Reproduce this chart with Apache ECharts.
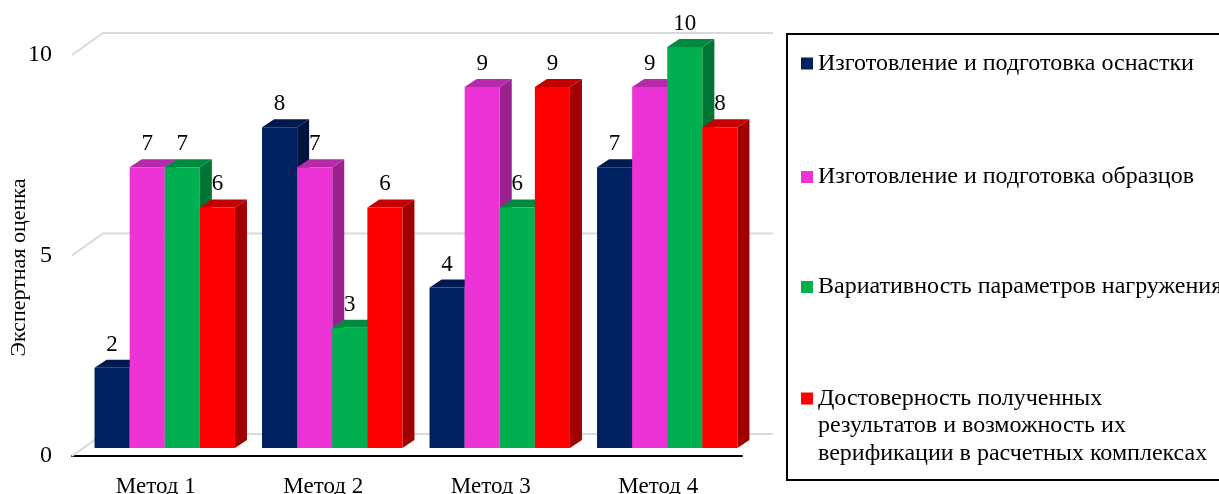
<!DOCTYPE html>
<html>
<head>
<meta charset="utf-8">
<script src="https://cdn.jsdelivr.net/npm/echarts@6/dist/echarts.min.js"></script>
<style>
  html, body { margin: 0; padding: 0; background: #ffffff; }
  #chart { width: 1219px; height: 494px; }
</style>
</head>
<body>
<div id="chart"></div>
<script>
// Categories and scores (expert rating, 0..10)
const categories = ['Метод 1', 'Метод 2', 'Метод 3', 'Метод 4'];
const seriesNames = [
  'Изготовление и подготовка оснастки',
  'Изготовление и подготовка образцов',
  'Вариативность параметров нагружения',
  'Достоверность полученных\nрезультатов и возможность их\nверификации в расчетных комплексах'
];
const toolingPrep = [2, 8, 4, 7];
const samplePrep = [7, 7, 9, 9];
const loadVariability = [7, 3, 6, 10];
const reliability = [6, 6, 9, 8];
const yTicks = [0, 5, 10];
const yAxisTitle = 'Экспертная оценка';

const seriesValues = [toolingPrep, samplePrep, loadVariability, reliability];

// Face colours of each box: front, top, side
const palette = [
  { front: '#002060', top: '#001A4F', side: '#00143D' },
  { front: '#EE33D6', top: '#B42AA8', side: '#9A2290' },
  { front: '#00B050', top: '#008A3E', side: '#007533' },
  { front: '#FF0000', top: '#C40000', side: '#A00000' }
];

const FONT = '"Liberation Serif", "Times New Roman", serif';

// Pseudo-3D geometry (pixels)
const BAR_SHIFT = [9, -8];     // bar front face relative to the front plane
const BAR_DEPTH = [12, -8];    // depth of each box
const WALL_DEPTH = [31, -22];  // depth of the back wall
const BAR_FRACTION = 0.2096;   // bar width as a share of the category band

function renderWall(params, api) {
  const cs = params.coordSys;
  const y = api.coord([0, api.value(1)])[1];
  return {
    type: 'polyline',
    shape: {
      points: [
        [cs.x, y],
        [cs.x + WALL_DEPTH[0], y + WALL_DEPTH[1]],
        [cs.x + cs.width + WALL_DEPTH[0], y + WALL_DEPTH[1]]
      ]
    },
    style: { stroke: '#D9D9D9', lineWidth: 2, fill: null },
    silent: true
  };
}

function makeBarRenderer(sIdx) {
  const c = palette[sIdx];
  return function (params, api) {
    const cat = api.value(0);
    const val = api.value(1);
    const base = api.coord([cat, 0]);
    const top = api.coord([cat, val]);
    const band = api.size([1, 0])[0];
    const bw = band * BAR_FRACTION;
    const x0 = base[0] - 2 * bw + sIdx * bw + BAR_SHIFT[0];
    const x1 = x0 + bw;
    const yb = base[1] + BAR_SHIFT[1];
    const yt = top[1] + BAR_SHIFT[1];
    const dx = BAR_DEPTH[0], dy = BAR_DEPTH[1];
    return {
      type: 'group',
      children: [
        {
          type: 'polygon',
          shape: { points: [[x1, yt], [x1 + dx, yt + dy], [x1 + dx, yb + dy], [x1, yb]] },
          style: { fill: c.side }
        },
        {
          type: 'polygon',
          shape: { points: [[x0, yt], [x1, yt], [x1 + dx, yt + dy], [x0 + dx, yt + dy]] },
          style: { fill: c.top }
        },
        {
          type: 'rect',
          shape: { x: x0, y: yt, width: bw, height: yb - yt },
          style: { fill: c.front }
        },
        {
          type: 'text',
          z2: 100,
          x: (x0 + x1) / 2,
          y: yt - 23,
          style: {
            text: String(val),
            fontFamily: FONT,
            fontSize: 23,
            fill: '#000000',
            align: 'center',
            verticalAlign: 'middle'
          }
        }
      ]
    };
  };
}

// One legend block per series so each entry sits at its own row;
// the wrapped entry gets two leading empty lines so its marker lines up with the first line.
const LEGEND_LINE = 27.5;
const legendCenters = [63.5, 177, 287, 398.5];
const legends = seriesNames.map((name, i) => {
  const multi = name.indexOf('\n') >= 0;
  return {
    data: [name],
    orient: 'vertical',
    left: 801,
    top: multi ? legendCenters[i] - 2.5 * LEGEND_LINE : legendCenters[i] - 12,
    padding: 0,
    itemWidth: 12,
    itemHeight: 12,
    icon: 'rect',
    selectedMode: false,
    formatter: multi ? (n => '\n\n' + n) : undefined,
    textStyle: Object.assign({
      fontFamily: FONT,
      fontSize: 24,
      color: '#000000'
    }, multi ? { lineHeight: LEGEND_LINE } : {})
  };
});

const series = [
  {
    type: 'custom',
    name: 'wall',
    silent: true,
    renderItem: renderWall,
    data: yTicks.map(t => [0, t]),
    z: 1
  }
].concat(seriesValues.map((vals, i) => ({
  type: 'custom',
  name: seriesNames[i],
  itemStyle: { color: palette[i].front },
  renderItem: makeBarRenderer(i),
  encode: { x: 0, y: 1 },
  data: vals.map((v, k) => [k, v]),
  z: 2
})));

const chart = echarts.init(document.getElementById('chart'), null, { renderer: 'canvas' });
chart.setOption({
  animation: false,
  backgroundColor: '#ffffff',
  grid: { left: 72, top: 55, width: 670, bottom: 38, containLabel: false, outerBoundsMode: 'none' },
  xAxis: {
    type: 'category',
    data: categories,
    boundaryGap: true,
    axisLine: { show: true, lineStyle: { color: '#000000', width: 2 } },
    axisTick: { show: false },
    splitLine: { show: false },
    axisLabel: { fontFamily: FONT, fontSize: 23, color: '#000000', margin: 19 }
  },
  yAxis: {
    type: 'value',
    min: 0,
    max: 10,
    interval: 5,
    name: yAxisTitle,
    nameLocation: 'middle',
    nameGap: 42,
    nameMoveOverlap: false,
    nameTextStyle: { fontFamily: FONT, fontSize: 22, color: '#000000', padding: [0, 24, 0, 0] },
    axisLine: { show: false },
    axisTick: { show: false },
    splitLine: { show: false },
    axisLabel: { fontFamily: FONT, fontSize: 24, color: '#000000', margin: 20 }
  },
  legend: legends,
  graphic: [
    {
      type: 'rect',
      shape: { x: 787, y: 34, width: 440, height: 446 },
      style: { fill: null, stroke: '#000000', lineWidth: 2 },
      silent: true,
      z: 0
    }
  ],
  series: series
});
</script>
</body>
</html>
